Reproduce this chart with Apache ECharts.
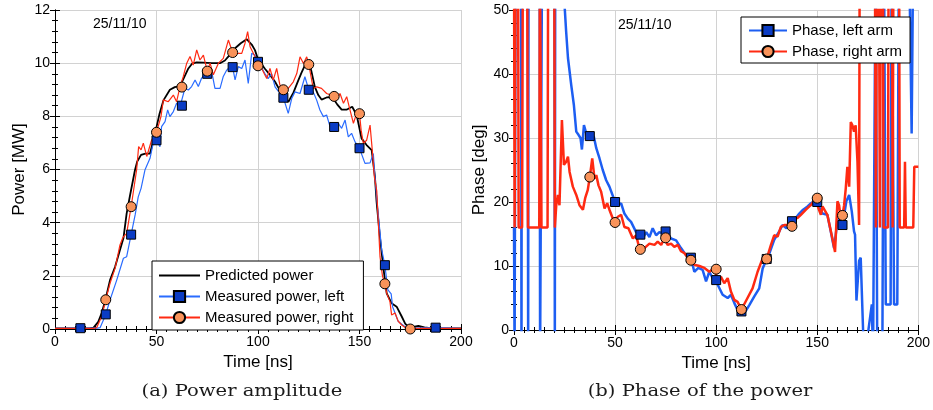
<!DOCTYPE html>
<html><head><meta charset="utf-8">
<script src="https://cdn.jsdelivr.net/npm/echarts@6/dist/echarts.min.js"></script>
<style>html,body{margin:0;padding:0;background:#fff}#c{width:933px;height:410px}</style>
</head><body><div id="c"></div>
<script>
// ---- Data (time in ns) ----
const predictedPower = [[0,0.02],[10,0.02],[17,0.02],[19,0.05],[21.3,0.27],[23,0.6],[24.6,1.03],[27.1,1.84],[29.6,2.34],[32,2.97],[33.7,3.41],[35.3,4.35],[37,5.04],[39.4,5.98],[40.5,6.3],[42.4,6.55],[44.5,6.6],[46.8,6.6],[49.3,7.36],[51.5,8.1],[53.4,8.6],[56.6,9.0],[59,9.1],[61.6,9.14],[63.5,9.45],[65.7,9.8],[67.5,9.98],[69.8,10.03],[73,10.02],[77.2,10.0],[81.3,10.0],[83.7,10.1],[86,10.3],[88.7,10.56],[91.5,10.75],[94.4,10.9],[96.9,10.7],[98.5,10.49],[100,10.15],[103.4,9.79],[106,9.55],[108.4,9.3],[111,8.95],[113,8.6],[115,8.55],[117.5,8.9],[119.9,9.36],[121.5,9.65],[123.1,9.92],[124.8,10.05],[126.3,9.7],[128,9.11],[129.7,8.8],[131.3,8.63],[133.8,8.71],[135.5,8.72],[137.1,8.67],[139,8.45],[141.2,8.25],[143.6,8.25],[146.4,8.36],[148.6,8.05],[151,7.17],[153.5,6.92],[156,6.73],[157.6,5.73],[158.4,4.8],[160,3.5],[161.7,2.34],[163.4,1.34],[165.8,0.97],[168.3,0.84],[170.8,0.47],[172.5,0.2],[174.3,0.06],[176.5,0.08],[179,0.12],[182,0.06],[185,0.03],[200,0.02]];

const measuredLeft = [[0,0.02],[12.5,0.03],[21,0.03],[22.2,0.05],[24.6,0.47],[25,0.55],[27.1,1.09],[30.4,1.84],[33.7,2.66],[35.3,2.72],[37.5,3.55],[37.8,3.6],[39.5,4.3],[41,4.97],[42.4,5.29],[44.3,5.98],[46.8,6.42],[48.4,6.99],[50,7.1],[51.7,6.86],[52.5,7.61],[54.2,7.8],[55.5,8.24],[56.6,7.99],[58.3,8.18],[59.9,8.49],[61.6,8.37],[62.5,8.4],[64,9.05],[65.7,8.99],[67.3,9.12],[69,9.37],[70.6,9.12],[72.2,9.43],[74,9.62],[75,9.6],[77.2,9.68],[78.8,9.05],[81.3,9.05],[82.9,9.5],[84.6,9.74],[86.2,9.87],[87.5,9.85],[88.7,9.37],[90.3,9.87],[92,9.8],[93.6,10.12],[95.2,9.24],[96.9,10.37],[98.5,10.3],[100,10.05],[101,9.93],[103.4,9.61],[105,9.42],[106.7,9.61],[108.4,9.11],[110.8,8.86],[112.5,8.7],[114.9,8.11],[116.6,8.67],[118.2,8.92],[120.7,8.86],[123.1,9.49],[125,9.0],[127.2,8.92],[128.9,8.61],[130.5,8.24],[132.2,7.99],[133.8,8.05],[135.5,7.61],[137.5,7.6],[139.5,7.74],[141.2,7.55],[142.9,7.86],[144.5,7.23],[146.1,7.36],[147.8,7.04],[150,6.8],[152.7,6.23],[155.2,6.25],[156.8,6.6],[157.6,5.73],[159,4.5],[160.9,3.0],[162.5,2.4],[164,1.47],[165.6,1.32],[166.3,0.84],[169.1,0.28],[172.4,0.09],[175,0.03],[187.5,0.05],[200,0.02]];

const measuredRight = [[0,0.02],[19,0.02],[20.5,0.05],[23,0.47],[25,1.1],[27.1,1.72],[29.6,2.28],[32,3.16],[33.5,3.45],[35.3,3.6],[37.5,4.6],[40.2,5.98],[41.2,6.86],[42.4,6.74],[43.5,6.99],[45.2,6.49],[47.6,7.11],[50,7.4],[52.2,7.99],[53.4,8.62],[55.8,8.55],[58.3,8.8],[59.9,8.55],[61.6,9.12],[62.5,9.1],[63.2,9.5],[64.9,10.0],[66.5,10.25],[68.1,9.93],[69.8,10.5],[71.4,10.12],[73.1,10.3],[75,9.7],[76.4,10.0],[78,9.56],[80.5,10.0],[82.9,10.18],[85.4,10.87],[87.5,10.4],[89.5,10.37],[92,10.37],[93.6,10.75],[94.9,11.19],[96.1,10.62],[98.5,10.25],[100,9.9],[101.8,9.8],[104.3,9.42],[105.9,9.8],[107.5,9.36],[109.2,9.8],[110.8,9.17],[112.5,9.0],[114.9,9.05],[117.4,9.3],[119.1,9.61],[120.7,10.24],[122.4,9.99],[124,10.24],[125,9.95],[127.2,9.05],[128.9,9.11],[131.3,9.05],[133.8,8.86],[136,8.8],[137.5,8.75],[138.5,8.61],[140.4,8.86],[142.1,8.49],[143.7,8.74],[145.3,8.24],[147,7.74],[148.6,8.11],[150,8.1],[150.8,7.48],[151.9,6.98],[153.5,7.1],[155.2,7.67],[156.3,6.73],[157.3,5.73],[158.5,5.2],[160.1,2.72],[161.3,2.0],[162.5,1.7],[163.4,1.34],[165,1.03],[165.8,0.53],[167.5,0.6],[169,0.3],[170.8,0.15],[173,0.03],[175,0.0],[178,0.02],[200,0.02]];

const phaseLeft = [[0,16],[0.3,-5],[0.8,60],[3.5,60],[3.7,-5],[3.9,60],[6.8,60],[7.0,-5],[7.2,60],[12.7,60],[12.9,-5],[13.7,-5],[13.9,60],[20.0,60],[20.2,-5],[20.4,60],[25,50.8],[25.8,46.6],[26.7,42.5],[28.3,38.3],[29.6,35.2],[30.8,31.0],[31.9,30.5],[32.9,30.0],[33.6,28.2],[34.6,32.0],[35.4,31.8],[36.2,30.2],[37.5,30.3],[39.5,30.2],[40.7,28.4],[42.3,26.8],[43.9,25.0],[45.6,23.4],[47.2,22.4],[50,20.0],[51.4,19.5],[53,19.8],[54.6,18.2],[56.3,17.4],[57.9,16.9],[60.4,15.3],[62.5,14.9],[63.7,14.3],[65.4,15.3],[67,14.5],[68.6,15.9],[70.3,14.8],[71.9,15.3],[73.6,15.1],[75,15.4],[77.7,14.3],[80.2,14.0],[82.6,12.8],[85.1,11.7],[87.5,11.3],[89.2,9.1],[91.2,9.7],[93.3,9.4],[95,7.6],[96.6,9.1],[98.3,8.1],[100,7.8],[100.7,7.1],[103.2,5.5],[105.7,5.0],[107.3,5.5],[109,4.2],[111.4,2.6],[112.5,2.9],[113.9,2.6],[116.4,3.9],[118.8,5.2],[121.3,6.5],[123,9.6],[125,11.1],[126.6,12.2],[128.7,14.1],[131.2,15.4],[132.8,16.4],[134.8,15.9],[137.5,17.0],[139.4,17.5],[141.1,18.2],[143,18.8],[145.2,19.3],[146.8,19.8],[148.5,20.1],[150,20.0],[150.6,19.5],[152.6,18.2],[155,18.0],[156.7,15.4],[158.3,12.8],[160,17.0],[161.3,17.5],[162.5,16.4],[163.3,16.4],[164.4,20.1],[165.8,21.1],[167.1,18.5],[168.2,15.4],[168.7,14.9],[169.4,4.6],[170.7,10.8],[171.5,11.3],[173.2,-5],[177,4.0],[177.6,-5],[178.9,60],[179.7,-5],[182.2,-5],[183,60],[183.9,4.0],[186.3,4.0],[186.8,60],[188,4.0],[189.6,4.0],[190.4,60],[195.4,60],[196.7,30.7],[197.5,60],[200,60]];

const phaseRight = [[0,60],[0.3,16],[0.8,60],[2.0,60],[2.3,16],[4.0,16],[4.4,60],[6.5,60],[6.9,16],[12.5,16],[12.8,60],[13.4,60],[13.6,16],[16.6,16],[16.9,60],[19.9,60],[20.2,16],[20.9,19.5],[21.7,21.1],[22.5,19.5],[23.7,32.8],[24.7,25.8],[25.8,26.3],[26.7,27.1],[27.5,24.7],[29.1,22.4],[30.8,21.1],[32.4,19.5],[34.1,18.8],[35.2,20.6],[36.5,21.9],[37.5,23.9],[38.7,26.8],[39.8,23.7],[40.7,24.2],[41.8,22.6],[43.1,21.6],[44.8,19.0],[46.1,19.8],[47.2,18.8],[49.4,17.0],[50,16.8],[51.4,17.7],[53,18.0],[54.6,16.1],[56.6,15.9],[58.8,14.3],[60.4,14.8],[62,12.8],[62.5,12.6],[64.5,12.8],[67,13.5],[69.5,13.3],[71.1,13.8],[72.8,13.3],[74.4,14.3],[75,14.4],[76,13.3],[77.7,13.5],[79.3,13.0],[81,13.3],[82.6,12.3],[84.3,12.0],[86.7,11.0],[87.5,10.9],[89.2,10.2],[91.7,10.0],[94.2,9.7],[96.6,9.1],[99.1,9.7],[100,9.5],[100.7,7.8],[102.4,8.3],[104,7.3],[105.7,8.1],[107.3,6.0],[109,4.7],[110.6,4.4],[112.5,3.2],[113.1,3.4],[115.5,5.0],[118,6.5],[120.5,9.1],[123,11.2],[125,11.1],[127.1,13.3],[128.7,14.8],[130.4,14.6],[132,16.1],[133.7,16.4],[136.1,16.4],[137.5,16.2],[138.6,17.5],[140.2,17.5],[141.9,18.0],[144.4,18.8],[146.8,19.5],[149.3,20.6],[150,20.6],[150.6,19.0],[151.8,18.0],[152.6,19.3],[155,18.0],[157.5,14.3],[158.8,12.2],[160,20.1],[160.8,19.5],[161.6,17.5],[162.5,17.9],[163.3,19.5],[164.1,22.1],[164.9,25.5],[165.8,22.4],[166.6,32.5],[167.4,32.0],[168.2,31.0],[169,32.0],[169.9,26.3],[170.7,16.4],[171,60],[178.5,60],[179,16],[179.5,60],[180.5,60],[181,16],[181.5,60],[182.5,60],[182.8,16],[185,16],[185.3,60],[187,60],[187.3,16],[187.7,60],[190.5,60],[190.8,16],[193,16],[193.4,26.3],[193.8,16],[197.5,16],[198,25.5],[200,25.5]];

const powerMarkerTimesLeft = [12.5,25,37.5,50,62.5,75,87.5,100,112.5,125,137.5,150,162.5,187.5];
const powerMarkerTimesRight = [25,37.5,50,62.5,75,87.5,100,112.5,125,137.5,150,162.5,175];
const phaseMarkerTimes = [37.5,50,62.5,75,87.5,100,112.5,125,137.5,150,162.5];

const powerLegend = ['Predicted power','Measured power, left','Measured power, right'];
const phaseLegend = ['Phase, left arm','Phase, right arm'];
const dateLabel = '25/11/10';
const captions = ['(a) Power amplitude','(b) Phase of the power'];

// ---- Build ----
function withMarkers(points, times){
  return points.map(p => times.indexOf(p[0]) >= 0 ? {value:p} : {value:p, symbol:'none'});
}
const FONT = 'Liberation Sans';
function xAxes(gi){
  const base = {type:'value', gridIndex:gi, min:0, max:200, interval:50};
  return [
    Object.assign({}, base, {position:'bottom',
      name:'Time [ns]', nameLocation:'middle', nameGap:22,
      nameTextStyle:{fontFamily:FONT,fontSize:17,color:'#000'},
      axisLine:{show:true,lineStyle:{color:'#000',width:1}},
      axisTick:{show:true,inside:true,length:5,lineStyle:{color:'#000'}},
      minorTick:{show:true,splitNumber:10,length:3,lineStyle:{color:'#000'}},
      axisLabel:{fontFamily:FONT,fontSize:14,color:'#000',margin:6},
      splitLine:{show:true,lineStyle:{color:'#d2d2d2',width:1}}}),
    Object.assign({}, base, {position:'top',
      axisLine:{show:true,lineStyle:{color:'#000',width:1}},
      axisTick:{show:true,inside:true,length:5,lineStyle:{color:'#000'}},
      minorTick:{show:true,splitNumber:10,length:3,lineStyle:{color:'#000'}},
      axisLabel:{show:false}, splitLine:{show:false}})
  ];
}
function yAxes(gi, max, interval, name, gap){
  const base = {type:'value', gridIndex:gi, min:0, max:max, interval:interval};
  return [
    Object.assign({}, base, {position:'left',
      name:name, nameLocation:'middle', nameGap:gap,
      nameTextStyle:{fontFamily:FONT,fontSize:17,color:'#000'},
      axisLine:{show:true,lineStyle:{color:'#000',width:1}},
      axisTick:{show:true,inside:true,length:5,lineStyle:{color:'#000'}},
      minorTick:{show:true,splitNumber:5,length:3,lineStyle:{color:'#000'}},
      axisLabel:{fontFamily:FONT,fontSize:14,color:'#000',margin:5},
      splitLine:{show:true,lineStyle:{color:'#d2d2d2',width:1}}}),
    Object.assign({}, base, {position:'right',
      axisLine:{show:true,lineStyle:{color:'#000',width:1}},
      axisTick:{show:true,inside:true,length:5,lineStyle:{color:'#000'}},
      minorTick:{show:true,splitNumber:5,length:3,lineStyle:{color:'#000'}},
      axisLabel:{show:false}, splitLine:{show:false}})
  ];
}
const BLUE_FILL = '#0b3cc4', ORANGE_FILL = '#f9935a';
const chart = echarts.init(document.getElementById('c'), null, {renderer:'canvas'});
chart.setOption({
  animation:false,
  backgroundColor:'#fff',
  grid:[
    {left:55, top:10, width:406, height:319},
    {left:514, top:10, width:405, height:320}
  ],
  xAxis: xAxes(0).concat(xAxes(1)),
  yAxis: yAxes(0,12,2,'Power [MW]',27).concat(yAxes(1,50,10,'Phase [deg]',26)),
  legend:[
    {orient:'vertical', left:152, top:261, padding:[7,10,5,6], itemGap:6, itemWidth:41, itemHeight:14,
     backgroundColor:'#fff', borderColor:'#000', borderWidth:1, borderRadius:0,
     textStyle:{fontFamily:FONT,fontSize:15,color:'#000'},
     data:[{name:powerLegend[0], itemStyle:{opacity:0}}, powerLegend[1], powerLegend[2]]},
    {orient:'vertical', left:741, top:17, padding:[6,8,4,7], itemGap:6, itemWidth:38, itemHeight:14,
     backgroundColor:'#fff', borderColor:'#000', borderWidth:1, borderRadius:0,
     textStyle:{fontFamily:FONT,fontSize:15,color:'#000'},
     data:phaseLegend}
  ],
  graphic:[
    {type:'text', left:93, top:17, style:{text:dateLabel, font:'14px "Liberation Sans"', fill:'#000'}},
    {type:'text', left:618, top:18, style:{text:dateLabel, font:'14px "Liberation Sans"', fill:'#000'}},
    {type:'text', x:242, y:392, scaleX:1.15, style:{text:captions[0], font:'17px "DejaVu Serif"', fill:'#1a1a1a', align:'center', verticalAlign:'middle'}},
    {type:'text', x:700, y:392, scaleX:1.15, style:{text:captions[1], font:'17px "DejaVu Serif"', fill:'#1a1a1a', align:'center', verticalAlign:'middle'}}
  ],
  series:[
    {name:powerLegend[0], type:'line', xAxisIndex:0, yAxisIndex:0, symbol:'none',
     data:predictedPower, lineStyle:{color:'#000',width:1.8}, itemStyle:{color:'#000'}},
    {name:powerLegend[1], type:'line', xAxisIndex:0, yAxisIndex:0, symbol:'rect', symbolSize:9, showAllSymbol:true,
     data:withMarkers(measuredLeft, powerMarkerTimesLeft),
     lineStyle:{color:'#2a6cff',width:1.2}, itemStyle:{color:BLUE_FILL,borderColor:'#000',borderWidth:1}},
    {name:powerLegend[2], type:'line', xAxisIndex:0, yAxisIndex:0, symbol:'circle', symbolSize:10, showAllSymbol:true,
     data:withMarkers(measuredRight, powerMarkerTimesRight),
     lineStyle:{color:'#ff2a12',width:1.2}, itemStyle:{color:ORANGE_FILL,borderColor:'#000',borderWidth:1}},
    {name:phaseLegend[0], type:'line', xAxisIndex:2, yAxisIndex:2, symbol:'rect', symbolSize:9, showAllSymbol:true,
     data:withMarkers(phaseLeft, phaseMarkerTimes),
     lineStyle:{color:'#1d5ef2',width:2.5}, itemStyle:{color:BLUE_FILL,borderColor:'#000',borderWidth:1}},
    {name:phaseLegend[1], type:'line', xAxisIndex:2, yAxisIndex:2, symbol:'circle', symbolSize:10, showAllSymbol:true,
     data:withMarkers(phaseRight, phaseMarkerTimes),
     lineStyle:{color:'#ff2a12',width:2.5}, itemStyle:{color:ORANGE_FILL,borderColor:'#000',borderWidth:1}}
  ]
});
</script>
</body></html>
